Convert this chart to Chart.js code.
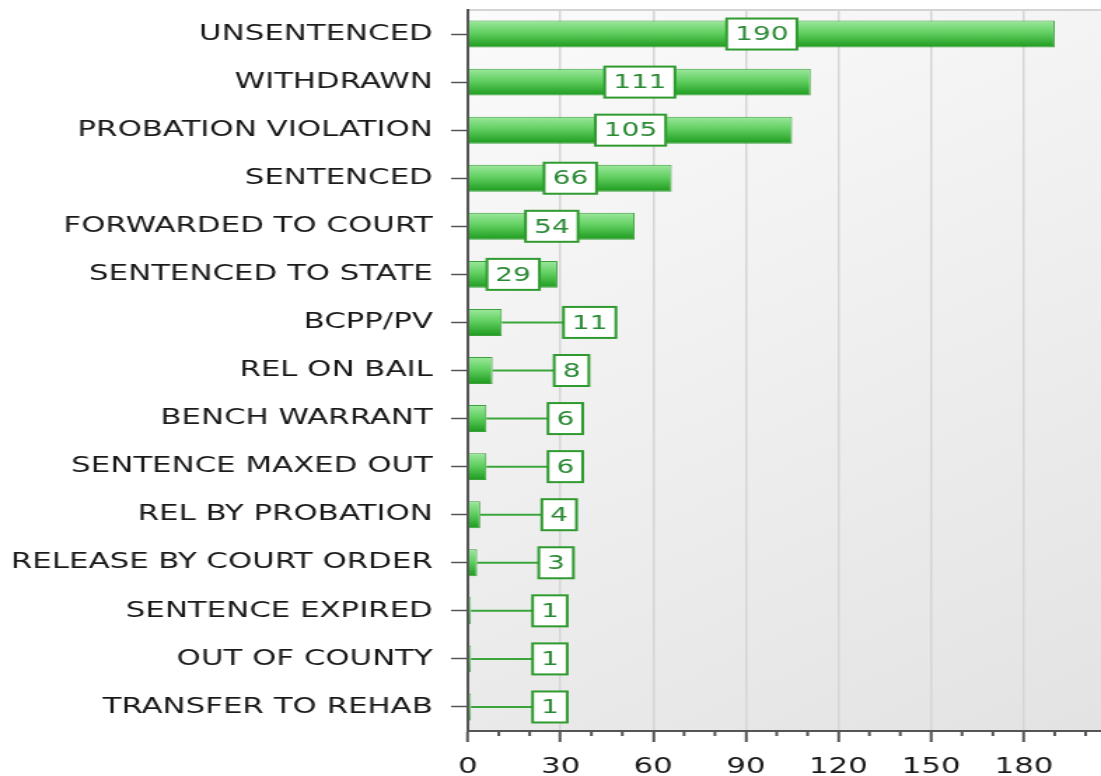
<!DOCTYPE html>
<html>
<head>
<meta charset="utf-8">
<title>Release reasons</title>
<script src="https://cdn.jsdelivr.net/npm/chart.js@4.4.0/dist/chart.umd.min.js"></script>
<style>
  html, body { margin: 0; padding: 0; background: #fff; overflow: hidden; }
  #reasonChart { display: block; }
</style>
</head>
<body>
<!-- drawn at 786 wide, shown at 1101 wide: the original is stretched sideways -->
<canvas id="reasonChart" width="786" height="776" style="width:1101px;height:776px"></canvas>
<script>
// Chart data
const categories = [
    'UNSENTENCED', 'WITHDRAWN', 'PROBATION VIOLATION', 'SENTENCED',
    'FORWARDED TO COURT', 'SENTENCED TO STATE', 'BCPP/PV', 'REL ON BAIL',
    'BENCH WARRANT', 'SENTENCE MAXED OUT', 'REL BY PROBATION',
    'RELEASE BY COURT ORDER', 'SENTENCE EXPIRED', 'OUT OF COUNTY', 'TRANSFER TO REHAB'
];
const counts = [190, 111, 105, 66, 54, 29, 11, 8, 6, 6, 4, 3, 1, 1, 1];
const xTickStep = 30;
const xMax = 205;
const minorStep = 10;

const barPct = 0.56;

// Green gradient for each bar, computed from the bar's own category slot
function barFill(c) {
    const chart = c.chart;
    const y = chart.scales.y;
    if (!y || !chart.chartArea || c.type !== 'data') return '#4cc24c';
    const cy = y.getPixelForValue(c.dataIndex);
    const half = (y.height / categories.length) * barPct / 2;
    const g = chart.ctx.createLinearGradient(0, cy - half, 0, cy + half);
    g.addColorStop(0, '#9de89d');
    g.addColorStop(0.45, '#62d062');
    g.addColorStop(1, '#1d9a1d');
    return g;
}

// Plot background and top border
const plotBackground = {
    id: 'plotBackground',
    beforeDraw(chart) {
        const { ctx, chartArea: a } = chart;
        ctx.save();
        const g = ctx.createLinearGradient(a.left, a.top, a.right, a.bottom);
        g.addColorStop(0, '#fbfbfb');
        g.addColorStop(1, '#e3e3e3');
        ctx.fillStyle = g;
        ctx.fillRect(a.left, a.top, a.right - a.left, a.bottom - a.top);
        ctx.strokeStyle = '#d4d4d4';
        ctx.lineWidth = 2;
        ctx.beginPath();
        ctx.moveTo(a.left, a.top);
        ctx.lineTo(a.right, a.top);
        ctx.stroke();
        ctx.restore();
    }
};

// Minor tick marks under the x axis
const minorTicks = {
    id: 'minorTicks',
    afterDraw(chart) {
        const { ctx, chartArea: a } = chart;
        const x = chart.scales.x;
        ctx.save();
        ctx.strokeStyle = '#555';
        ctx.lineWidth = 2;
        for (let v = minorStep; v < xMax; v += minorStep) {
            if (v % xTickStep === 0) continue;
            const px = x.getPixelForValue(v);
            ctx.beginPath();
            ctx.moveTo(px, a.bottom);
            ctx.lineTo(px, a.bottom + 5);
            ctx.stroke();
        }
        ctx.restore();
    }
};

// Boxed value labels: inside the bar when they fit, else off to the right with a leader line
const valueBoxes = {
    id: 'valueBoxes',
    afterDatasetsDraw(chart) {
        const ctx = chart.ctx;
        const meta = chart.getDatasetMeta(0);
        ctx.save();
        ctx.font = '20px "DejaVu Sans"';
        ctx.textAlign = 'center';
        ctx.textBaseline = 'middle';
        meta.data.forEach((bar, i) => {
            const text = String(counts[i]);
            const tw = ctx.measureText(text).width;
            const boxW = tw + 12;
            const boxH = 31;
            const barLen = bar.x - bar.base;
            let cx;
            if (boxW + 4 <= barLen) {
                cx = (bar.x + bar.base) / 2;
            } else {
                const left = bar.x + 44;
                ctx.strokeStyle = '#3aa63a';
                ctx.lineWidth = 2;
                ctx.beginPath();
                ctx.moveTo(bar.x, bar.y);
                ctx.lineTo(left, bar.y);
                ctx.stroke();
                cx = left + boxW / 2;
            }
            ctx.fillStyle = '#ffffff';
            ctx.fillRect(cx - boxW / 2, bar.y - boxH / 2, boxW, boxH);
            ctx.strokeStyle = '#2f9a2f';
            ctx.lineWidth = 2;
            ctx.strokeRect(cx - boxW / 2, bar.y - boxH / 2, boxW, boxH);
            ctx.fillStyle = '#2b8a35';
            ctx.fillText(text, cx, bar.y + 1);
        });
        ctx.restore();
    }
};

document.addEventListener('DOMContentLoaded', () => {
    const canvas = document.getElementById('reasonChart');
    new Chart(canvas, {
        type: 'bar',
        data: {
            labels: categories,
            datasets: [{
                label: 'Count',
                data: counts,
                backgroundColor: barFill,
                borderColor: '#3f9f3f',
                borderWidth: 1,
                categoryPercentage: 1,
                barPercentage: barPct
            }]
        },
        options: {
            indexAxis: 'y',
            responsive: false,
            devicePixelRatio: 1,
            animation: false,
            layout: { padding: { top: 10, left: 0, right: 0, bottom: 0 } },
            scales: {
                x: {
                    type: 'linear',
                    min: 0,
                    max: xMax,
                    border: { display: true, color: '#555', width: 2 },
                    grid: {
                        color: '#d6d6d6',
                        lineWidth: 1.5,
                        tickColor: '#555',
                        tickLength: 11,
                        tickWidth: 2
                    },
                    ticks: {
                        stepSize: xTickStep,
                        includeBounds: false,
                        autoSkip: false,
                        maxRotation: 0,
                        padding: 12,
                        color: '#1a1a1a',
                        font: { family: 'DejaVu Sans', size: 22 }
                    },
                    afterFit(scale) {
                        scale.height = 45;
                        scale.paddingLeft = 0;
                        scale.paddingRight = 0;
                    }
                },
                y: {
                    border: { display: true, color: '#555', width: 2 },
                    grid: {
                        drawOnChartArea: false,
                        offset: false,
                        tickColor: '#555',
                        tickLength: 12,
                        tickWidth: 1.5
                    },
                    ticks: {
                        autoSkip: false,
                        padding: 13,
                        color: '#1a1a1a',
                        font: { family: 'DejaVu Sans', size: 22 }
                    },
                    afterFit(scale) {
                        scale.width = 334;
                        scale.paddingTop = 0;
                        scale.paddingBottom = 0;
                    }
                }
            },
            plugins: {
                legend: { display: false },
                tooltip: { enabled: false }
            }
        },
        plugins: [plotBackground, minorTicks, valueBoxes]
    });
});
</script>
</body>
</html>
